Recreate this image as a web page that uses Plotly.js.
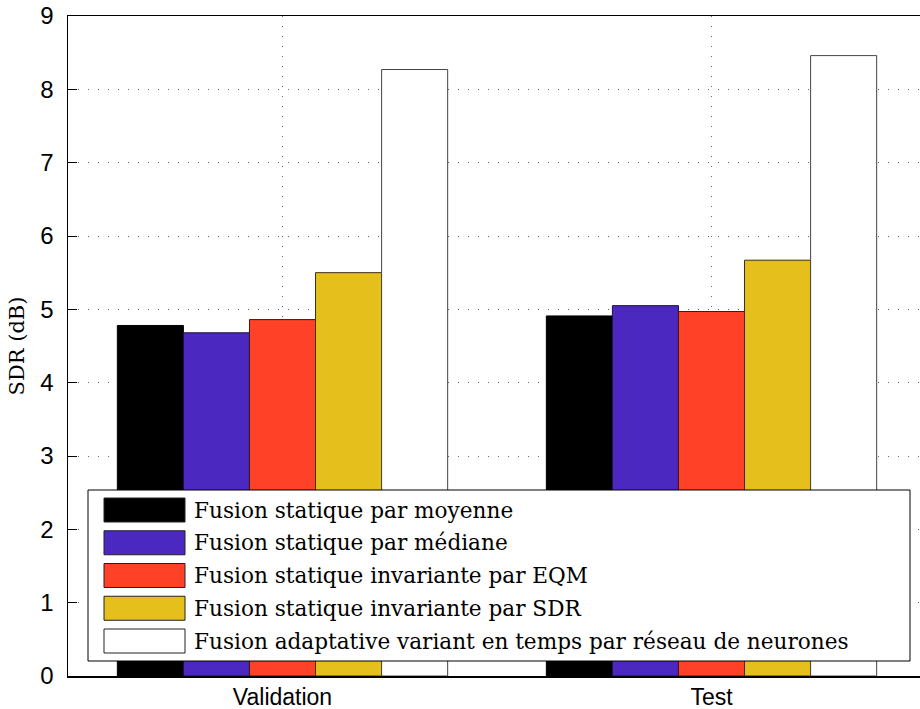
<!DOCTYPE html>
<html>
<head>
<meta charset="utf-8">
<script src="https://cdn.plot.ly/plotly-3.0.1.min.js"></script>
<style>html,body{margin:0;padding:0;background:#fff;}#chart{width:920px;height:709px;}</style>
</head>
<body>
<div id="chart"></div>
<script>
const categories = ["Validation", "Test"];
const seriesNames = [
  "Fusion statique par moyenne",
  "Fusion statique par médiane",
  "Fusion statique invariante par EQM",
  "Fusion statique invariante par SDR",
  "Fusion adaptative variant en temps par réseau de neurones"
];
const moyenne = [4.78, 4.91];
const mediane = [4.68, 5.05];
const eqm = [4.86, 4.97];
const sdr = [5.50, 5.67];
const adaptative = [8.27, 8.46];
const seriesValues = [moyenne, mediane, eqm, sdr, adaptative];
const seriesColors = ["#000000", "#4b28bf", "#ff4127", "#e5bf1b", "#ffffff"];
const seriesLines = ["#000000", "#1a1040", "#3a1a10", "#3a3010", "#444444"];
const yTicks = [0, 1, 2, 3, 4, 5, 6, 7, 8, 9];

const W = 920, H = 709;
const mL = 68, mR = 0, mT = 16, mB = 33;
const plotW = W - mL - mR, plotH = H - mT - mB;
const px2x = p => (p - mL) / plotW;
const py2y = p => (H - mB - p) / plotH;

const traces = seriesNames.map((n, i) => ({
  type: "bar",
  name: n,
  x: categories,
  y: seriesValues[i],
  marker: {color: seriesColors[i], line: {color: seriesLines[i], width: 1}},
  showlegend: false,
  hoverinfo: "x+y+name"
}));

// manual legend box (MATLAB style)
const shapes = [];
const annotations = [];
shapes.push({type: "rect", xref: "paper", yref: "paper",
  x0: px2x(88), x1: px2x(910), y0: py2y(661), y1: py2y(490),
  fillcolor: "#ffffff", line: {color: "#000000", width: 1}, layer: "above"});
const rowTop = 498, rowPitch = 32.75, swH = 24;
seriesNames.forEach((n, i) => {
  const t = rowTop + i * rowPitch;
  shapes.push({type: "rect", xref: "paper", yref: "paper",
    x0: px2x(104), x1: px2x(185), y0: py2y(t + swH), y1: py2y(t),
    fillcolor: seriesColors[i], line: {color: "#222222", width: 1}, layer: "above"});
  annotations.push({xref: "paper", yref: "paper", x: px2x(192), y: py2y(t + swH / 2),
    xanchor: "left", yanchor: "middle", showarrow: false, text: n,
    font: {family: "DejaVu Serif", size: 21.6, color: "#000"}});
});

const layout = {
  width: W, height: H,
  margin: {l: mL, r: mR, t: mT, b: mB, pad: 0},
  paper_bgcolor: "#ffffff", plot_bgcolor: "#ffffff",
  barmode: "group", bargap: 0.23, bargroupgap: 0,
  showlegend: false,
  font: {family: "Liberation Sans, Arial, sans-serif", size: 23, color: "#000"},
  xaxis: {
    type: "category",
    range: [-0.5, -0.5 + plotW / 429],
    showline: true, linecolor: "#000", linewidth: 1.5, mirror: true,
    showgrid: true, gridcolor: "#666666", griddash: "1px,9px", gridwidth: 1,
    ticks: "", tickfont: {family: "Liberation Sans, Arial, sans-serif", size: 23},
    ticklabelstandoff: 0,
    zeroline: false, fixedrange: true
  },
  yaxis: {
    range: [0, 9],
    tickvals: yTicks,
    showline: true, linecolor: "#000", linewidth: 1.5,
    showgrid: true, gridcolor: "#666666", griddash: "1px,9px", gridwidth: 1,
    ticks: "inside", ticklen: 9, tickcolor: "#000", tickwidth: 1,
    tickfont: {family: "Liberation Sans, Arial, sans-serif", size: 24},
    ticklabelstandoff: 8,
    zeroline: false, fixedrange: true,
    title: {text: "SDR (dB)", font: {family: "DejaVu Serif", size: 21}, standoff: 10}
  },
  shapes: shapes,
  annotations: annotations
};

Plotly.newPlot("chart", traces, layout, {displayModeBar: false, staticPlot: true});
</script>
</body>
</html>
